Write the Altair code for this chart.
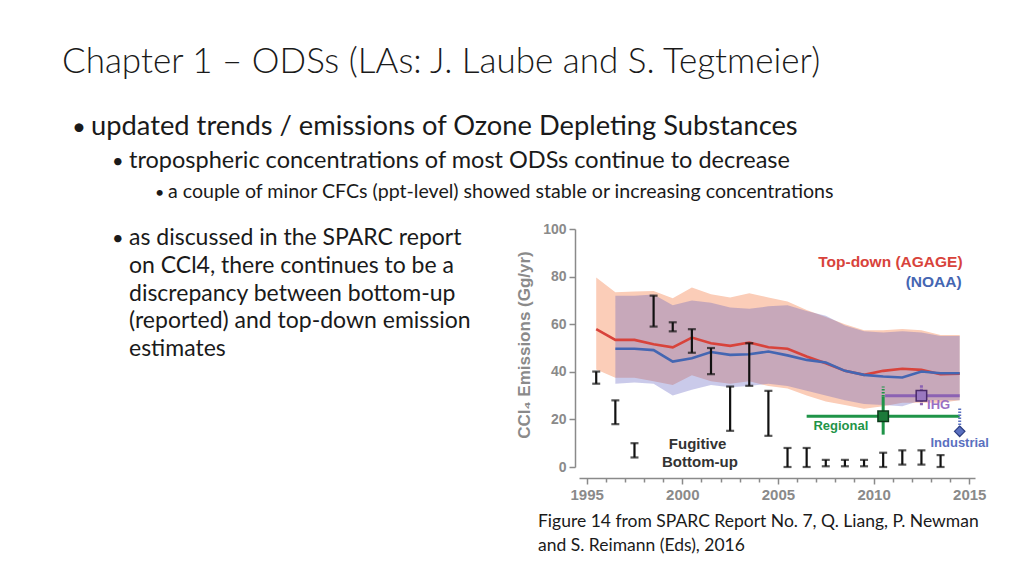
import altair as alt
import pandas as pd

# ---------------- data ----------------
agage_years = [1995.5, 1996.5, 1997.5, 1998.5, 1999.5, 2000.5, 2001.5, 2002.5, 2003.5, 2004.5,
               2005.5, 2006.5, 2007.5, 2008.5, 2009.5, 2010.5, 2011.5, 2012.5, 2013.5, 2014.5]
agage = [57.9, 53.4, 53.4, 51.6, 50.3, 54.4, 52.0, 50.9, 52.3, 50.3,
         49.7, 46.4, 43.6, 40.4, 38.7, 40.4, 41.3, 40.8, 39.0, 39.2]
agage_hi = [79.6, 73.4, 73.7, 74.0, 70.9, 75.4, 72.6, 71.2, 73.0, 71.2,
            69.5, 66.0, 63.0, 60.0, 57.5, 57.5, 58.0, 57.5, 55.5, 55.5]
agage_lo = [41.0, 37.5, 37.5, 36.0, 34.5, 38.5, 36.0, 35.0, 36.0, 34.0,
            33.0, 30.0, 27.5, 26.0, 24.5, 25.5, 27.0, 27.0, 27.0, 28.0]

noaa_years = [1996.5, 1997.5, 1998.5, 1999.5, 2000.5, 2001.5, 2002.5, 2003.5, 2004.5,
              2005.5, 2006.5, 2007.5, 2008.5, 2009.5, 2010.5, 2011.5, 2012.5, 2013.5, 2014.5]
noaa = [49.7, 49.7, 49.1, 44.3, 45.7, 48.3, 47.1, 47.4, 48.5,
        46.9, 45.0, 43.9, 40.4, 38.7, 38.0, 37.6, 40.1, 39.4, 39.4]
noaa_hi = [72.0, 72.0, 72.5, 68.0, 70.0, 69.0, 67.0, 66.5, 67.5,
           68.0, 65.5, 63.5, 59.5, 57.0, 56.5, 57.0, 56.5, 55.0, 55.0]
noaa_lo = [35.0, 35.5, 35.0, 30.0, 32.5, 34.5, 33.5, 34.0, 35.0,
           34.0, 32.0, 30.0, 28.0, 26.5, 26.0, 25.5, 28.0, 28.0, 28.0]

fug_years = [1995.5, 1996.5, 1997.5, 1998.5, 1999.5, 2000.5, 2001.5, 2002.5, 2003.5, 2004.5,
             2005.5, 2006.5, 2007.5, 2008.5, 2009.5, 2010.5, 2011.5, 2012.5, 2013.5]
fug_lo = [35.0, 18.0, 4.0, 59.0, 57.0, 48.0, 39.0, 15.2, 34.1, 13.1,
          0.0, 0.0, 0.3, 0.3, 0.3, 0.0, 1.0, 1.0, 0.0]
fug_hi = [40.1, 28.0, 10.0, 72.0, 60.8, 57.9, 50.0, 33.8, 52.0, 32.0,
          8.0, 8.0, 3.0, 3.0, 3.0, 6.0, 7.0, 7.0, 5.0]

regional = {"year": 2010.5, "value": 21.3, "x_lo": 2006.5, "x_hi": 2014.5,
            "y_lo": 13.6, "y_hi": 29.6, "y_dot": 33.8}
ihg = {"year": 2012.5, "value": 29.9, "x_lo": 2010.6, "x_hi": 2014.5,
       "y_lo": 25.9, "y_hi": 34.3}
industrial = {"year": 2014.5, "value": 15.0, "y_lo": 16.4, "y_hi": 25.0}

x_ticks = [1995, 1996, 1997, 1998, 1999, 2000, 2001, 2002, 2003, 2004, 2005,
           2006, 2007, 2008, 2009, 2010, 2011, 2012, 2013, 2014, 2015]
y_ticks = [0, 20, 40, 60, 80, 100]

title_text = "Chapter 1 \u2013 ODSs (LAs: J. Laube and S. Tegtmeier)"
bullet1 = "updated trends / emissions of Ozone Depleting Substances"
bullet2 = "tropospheric concentrations of most ODSs continue to decrease"
bullet3 = "a couple of minor CFCs (ppt-level) showed stable or increasing concentrations"
bullet4 = ["as discussed in the SPARC report", "on CCl4, there continues to be a",
           "discrepancy between bottom-up", "(reported) and top-down emission",
           "estimates"]
caption = ["Figure 14 from SPARC Report No. 7, Q. Liang, P. Newman",
           "and S. Reimann (Eds), 2016"]

# ---------------- tables ----------------
df_agage = pd.DataFrame({"year": agage_years, "v": agage, "lo": agage_lo, "hi": agage_hi})
df_noaa = pd.DataFrame({"year": noaa_years, "v": noaa, "lo": noaa_lo, "hi": noaa_hi})
df_fug = pd.DataFrame({"year": fug_years, "lo": fug_lo, "hi": fug_hi})

# ---------------- scales / axes ----------------
AX_FONT = "Liberation Sans"
GRAY = "#8a8a8a"
W, H = 396, 238
xscale = alt.Scale(domain=[1994.6, 2015.3], nice=False, zero=False)
yscale = alt.Scale(domain=[0, 100], nice=False)
xaxis = alt.Axis(values=x_ticks, title=None, grid=False, offset=11,
                 labelExpr="datum.value % 5 === 0 ? format(datum.value, 'd') : ''",
                 labelOverlap=False, labelFont=AX_FONT, labelFontSize=15,
                 labelFontWeight="bold", labelColor=GRAY, labelPadding=3,
                 domainColor=GRAY, tickColor=GRAY, domainWidth=1.5, tickWidth=1.5,
                 tickSize={"condition": {"test": "datum.value % 5 === 0", "value": 6}, "value": 4})
yaxis = alt.Axis(values=y_ticks, title=None, grid=False, offset=4,
                 labelFont=AX_FONT, labelFontSize=14, labelFontWeight="bold",
                 labelColor=GRAY, labelPadding=3, domainColor=GRAY, tickColor=GRAY,
                 domainWidth=1.5, tickWidth=1.5, tickSize=6)


def X(field):
    return alt.X(field, type="quantitative", scale=xscale, axis=xaxis)


def Y(field):
    return alt.Y(field, type="quantitative", scale=yscale, axis=yaxis)


def XD(v):
    return alt.XDatum(v, type="quantitative", scale=xscale, axis=xaxis)


def YD(v):
    return alt.YDatum(v, type="quantitative", scale=yscale, axis=yaxis)


one = pd.DataFrame({"k": [0]})

# bands
band_agage = alt.Chart(df_agage).mark_area(color="#fbcdb8", opacity=1).encode(
    x=X("year"), y=Y("lo"), y2="hi")
band_noaa = alt.Chart(df_noaa).mark_area(color="#5a59be", opacity=0.32).encode(
    x=X("year"), y=Y("lo"), y2="hi")
line_agage = alt.Chart(df_agage).mark_line(color="#d8433b", strokeWidth=2.6).encode(
    x=X("year"), y=Y("v"))
line_noaa = alt.Chart(df_noaa).mark_line(color="#4466b2", strokeWidth=2.6).encode(
    x=X("year"), y=Y("v"))

# fugitive bottom-up error bars
fug_rule = alt.Chart(df_fug).mark_rule(color="#111", strokeWidth=2.2).encode(
    x=X("year"), y=Y("lo"), y2="hi")
fug_cap_lo = alt.Chart(df_fug).mark_tick(color="#111", orient="horizontal", size=8, thickness=2.2).encode(
    x=X("year"), y=Y("lo"))
fug_cap_hi = alt.Chart(df_fug).mark_tick(color="#111", orient="horizontal", size=8, thickness=2.2).encode(
    x=X("year"), y=Y("hi"))

GREEN = "#1f9448"
PURPLE = "#8b62b3"
BLUE2 = "#5a70c0"

reg_h = alt.Chart(one).mark_rule(color=GREEN, strokeWidth=3).encode(
    x=XD(regional["x_lo"]), x2=alt.X2Datum(regional["x_hi"]), y=YD(regional["value"]))
reg_v = alt.Chart(one).mark_rule(color=GREEN, strokeWidth=3).encode(
    x=XD(regional["year"]), y=YD(regional["y_lo"]), y2=alt.Y2Datum(regional["y_hi"]))
reg_vd = alt.Chart(one).mark_rule(color=GREEN, strokeWidth=3, strokeDash=[1.5, 1.5]).encode(
    x=XD(regional["year"]), y=YD(regional["y_hi"]), y2=alt.Y2Datum(regional["y_dot"]))
reg_pt = alt.Chart(one).mark_point(shape="square", filled=True, fill="#1c7a3a", stroke="#0c3a1a",
                                   strokeWidth=1.5, size=110, opacity=1).encode(
    x=XD(regional["year"]), y=YD(regional["value"]))

ihg_h = alt.Chart(one).mark_rule(color=PURPLE, strokeWidth=3).encode(
    x=XD(ihg["x_lo"]), x2=alt.X2Datum(ihg["x_hi"]), y=YD(ihg["value"]))
ihg_v = alt.Chart(one).mark_rule(color=PURPLE, strokeWidth=3, strokeDash=[2.5, 1]).encode(
    x=XD(ihg["year"]), y=YD(ihg["y_lo"]), y2=alt.Y2Datum(ihg["y_hi"]))
ihg_pt = alt.Chart(one).mark_point(shape="square", filled=True, fill="#9a78c0", stroke="#4a2a6a",
                                   strokeWidth=1.5, size=110, opacity=1).encode(
    x=XD(ihg["year"]), y=YD(ihg["value"]))

ind_v = alt.Chart(one).mark_rule(color=BLUE2, strokeWidth=3, strokeDash=[1.5, 1.5]).encode(
    x=XD(industrial["year"]), y=YD(industrial["y_lo"]), y2=alt.Y2Datum(industrial["y_hi"]))
ind_pt = alt.Chart(one).mark_point(shape="diamond", filled=True, fill=BLUE2, stroke="#2d3e80",
                                   strokeWidth=1.2, size=110, opacity=1).encode(
    x=XD(industrial["year"]), y=YD(industrial["value"]))


def dlabel(s, xv, yv, color, size, align="center"):
    return alt.Chart(one).mark_text(text=s, font=AX_FONT, fontWeight="bold", fontSize=size,
                                    color=color, align=align, baseline="middle").encode(
        x=XD(xv), y=YD(yv))


labels = [
    dlabel("Top-down (AGAGE)", 2014.65, 86.3, "#d8433b", 15.5, "right"),
    dlabel("(NOAA)", 2014.6, 77.9, "#4466b2", 15.5, "right"),
    dlabel("Fugitive", 2000.8, 9.7, "#333333", 15),
    dlabel("Bottom-up", 2000.92, 2.0, "#333333", 15),
    dlabel("Regional", 2008.29, 17.1, GREEN, 13),
    dlabel("IHG", 2013.4, 25.9, "#9a6fc4", 13),
    dlabel("Industrial", 2014.5, 10.1, "#5a70c0", 13),
]

# ---------------- slide text (pixel positions relative to plot origin) ----------------
OX, OY = 579, 229
SLIDE_FONT = "Lato"
INK = "#1a1a1a"


def ptext(s, px, py, size, weight="normal", font=SLIDE_FONT, color=INK, angle=0,
          align="left", baseline="alphabetic"):
    return alt.Chart(one).mark_text(text=s, font=font, fontSize=size, fontWeight=weight,
                                    color=color, align=align, baseline=baseline, angle=angle).encode(
        x=alt.value(px - OX), y=alt.value(py - OY))


slide = [
    ptext(title_text, 62, 73, 35, weight=300),
    ptext("\u2022", 72, 135, 24),
    ptext(bullet1, 91, 135, 27.3),
    ptext("\u2022", 112, 168, 20),
    ptext(bullet2, 129, 168, 23.5),
    ptext("\u2022", 155, 198, 16),
    ptext(bullet3, 168, 198, 19.6),
    ptext("\u2022", 112, 245, 20),
]
for i, line in enumerate(bullet4):
    slide.append(ptext(line, 129, 245 + 27.8 * i, 23))
for i, line in enumerate(caption):
    slide.append(ptext(line, 538, 527 + 24 * i, 17.5))

slide.append(ptext("CCl\u2084 Emissions (Gg/yr)", 525, 345, 17, weight="bold", font=AX_FONT,
                   color=GRAY, angle=270, align="center", baseline="middle"))

chart = alt.layer(
    band_agage, band_noaa, line_agage, line_noaa,
    fug_rule, fug_cap_lo, fug_cap_hi,
    reg_h, reg_v, reg_vd, ihg_h, ihg_v, ind_v,
    reg_pt, ihg_pt, ind_pt,
    *labels, *slide,
).properties(
    width=W, height=H,
    autosize=alt.AutoSizeParams(type="none"),
    padding={"left": OX - 8, "top": OY - 8, "right": 1008 - (OX - 8) - W, "bottom": 560 - (OY - 8) - H},
    background="white",
).configure_view(stroke=None)

chart.save("out.html", embed_options={"renderer": "svg", "actions": False})
